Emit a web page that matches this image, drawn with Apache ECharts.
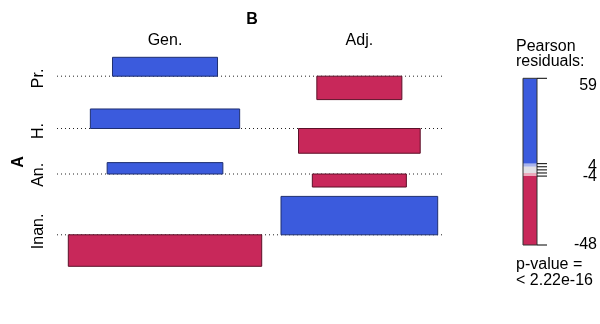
<!DOCTYPE html>
<html>
<head>
<meta charset="utf-8">
<script src="https://cdn.jsdelivr.net/npm/echarts@6/dist/echarts.min.js"></script>
<style>
  html, body { margin: 0; padding: 0; background: #ffffff; }
  #chart { width: 600px; height: 324px; }
</style>
</head>
<body>
<div id="chart"></div>
<script>
// Association plot: rows of variable A against columns of variable B.
// Bar width ~ sqrt(expected count), bar height ~ Pearson residual.
const rowNames = ['Pr.', 'H.', 'An.', 'Inan.'];
const colNames = ['Gen.', 'Adj.'];
const expectedGen = [11030, 22290, 13390, 37400];
const expectedAdj = [7230, 14810, 8840, 24550];
const residualGen = [29, 30, 17.5, -48.4];
const residualAdj = [-36, -38, -20, 59];
const legendTickValues = [4, 2, 0, -2, -4];
const legendLabelValues = [59, 4, -4, -48];
const pValueLabel = '< 2.22e-16';

const FONT = '"Liberation Sans", Arial, Helvetica, sans-serif';
const FS = '16px ';
const POS_FILL = '#3B5BDD', NEG_FILL = '#C8285A';
const POS_LINE = '#1F2F70', NEG_LINE = '#5C1028';

// ---- layout in data units (sqrt-count horizontally, residuals vertically)
const expected = [expectedGen, expectedAdj];
const residual = [residualGen, residualAdj];
const PAD_L = 11.3, COL_GAP = 19.3, PAD_R = 6.3, ROW_GAP = 14.4;

const colWidth = expected.map(col => Math.max(...col.map(Math.sqrt)));
const colCenter = [];
let xo = PAD_L;
colWidth.forEach((w, j) => { colCenter[j] = xo + w / 2; xo += w + COL_GAP; });
const X_MAX = xo - COL_GAP + PAD_R;

const rowUp = [], rowDown = [], rowBase = [];
let yo = 0;
rowNames.forEach((_, i) => {
  const vals = residual.map(col => col[i]);
  rowUp[i] = Math.max(0, ...vals);
  rowDown[i] = Math.max(0, ...vals.map(v => -v));
  rowBase[i] = yo + rowUp[i];
  yo += rowUp[i] + rowDown[i] + ROW_GAP;
});
const Y_MAX = yo - ROW_GAP;

const cellData = [];
colNames.forEach((_, j) => rowNames.forEach((_, i) => {
  cellData.push([colCenter[j], rowBase[i], Math.sqrt(expected[j][i]), residual[j][i]]);
}));

const allRes = residual.flat();
const resMax = Math.max(...allRes), resMin = Math.min(...allRes);

// legend colour pieces: [low, high, colour]
const legendPieces = [
  [4, resMax, POS_FILL],
  [2, 4, '#A9B4EC'],
  [-2, 2, '#E2E0E5'],
  [-4, -2, '#EBA9BB'],
  [resMin, -4, NEG_FILL]
];

const chart = echarts.init(document.getElementById('chart'), null, { renderer: 'canvas' });

chart.setOption({
  animation: false,
  backgroundColor: '#ffffff',
  grid: [
    { left: 57, top: 57.3, width: 387, height: 209 },
    { left: 523, top: 78.3, width: 14, height: 166.7 }
  ],
  xAxis: [
    { gridIndex: 0, type: 'value', min: 0, max: X_MAX, show: false },
    { gridIndex: 1, type: 'value', min: 0, max: 1, show: false }
  ],
  yAxis: [
    { gridIndex: 0, type: 'value', min: 0, max: Y_MAX, inverse: true, show: false },
    { gridIndex: 1, type: 'value', min: resMin, max: resMax, show: false }
  ],
  graphic: [
    { type: 'text', x: 252, y: 20, style: { text: 'B', fontSize: 16, fontWeight: 'bold', fontFamily: FONT, fill: '#000', align: 'center', verticalAlign: 'middle' } },
    { type: 'text', x: 19, y: 162, rotation: Math.PI / 2, style: { text: 'A', fontSize: 16, fontWeight: 'bold', fontFamily: FONT, fill: '#000', align: 'center', verticalAlign: 'middle' } },
    { type: 'text', x: 516, y: 47, style: { text: 'Pearson', font: FS + FONT, fill: '#000', align: 'left', verticalAlign: 'middle' } },
    { type: 'text', x: 516, y: 62, style: { text: 'residuals:', font: FS + FONT, fill: '#000', align: 'left', verticalAlign: 'middle' } },
    { type: 'text', x: 516, y: 265, style: { text: 'p-value =', font: FS + FONT, fill: '#000', align: 'left', verticalAlign: 'middle' } },
    { type: 'text', x: 516, y: 281, style: { text: pValueLabel, font: FS + FONT, fill: '#000', align: 'left', verticalAlign: 'middle' } }
  ],
  series: [
    {
      // dotted baselines per row
      type: 'custom', xAxisIndex: 0, yAxisIndex: 0, clip: false,
      data: rowBase.map(b => [0, b]),
      encode: { x: 0, y: 1 },
      renderItem: (params, api) => {
        const a = api.coord([0, api.value(1)]);
        const b = api.coord([X_MAX, api.value(1)]);
        return { type: 'line', shape: { x1: a[0], y1: a[1], x2: b[0], y2: b[1] },
          style: { stroke: '#222', lineWidth: 1, lineDash: [1, 3] } };
      }
    },
    {
      // residual bars
      type: 'custom', xAxisIndex: 0, yAxisIndex: 0, clip: false,
      data: cellData,
      encode: { x: 0, y: 1 },
      renderItem: (params, api) => {
        const xc = api.value(0), base = api.value(1), w = api.value(2), r = api.value(3);
        const p1 = api.coord([xc - w / 2, base - Math.max(r, 0)]);
        const p2 = api.coord([xc + w / 2, base - Math.min(r, 0)]);
        return { type: 'rect',
          shape: { x: p1[0], y: p1[1], width: p2[0] - p1[0], height: p2[1] - p1[1] },
          style: { fill: r > 0 ? POS_FILL : NEG_FILL, stroke: r > 0 ? POS_LINE : NEG_LINE, lineWidth: 1 } };
      }
    },
    {
      // row labels
      type: 'custom', xAxisIndex: 0, yAxisIndex: 0, clip: false,
      data: rowNames.map((n, i) => [0, rowBase[i] - rowUp[i] + (rowUp[i] + rowDown[i]) / 2]),
      encode: { x: 0, y: 1 },
      renderItem: (params, api) => {
        const p = api.coord([0, api.value(1)]);
        return { type: 'text', x: 39, y: p[1], rotation: Math.PI / 2,
          style: { text: rowNames[params.dataIndex], font: FS + FONT, fill: '#000', align: 'center', verticalAlign: 'middle' } };
      }
    },
    {
      // column labels
      type: 'custom', xAxisIndex: 0, yAxisIndex: 0, clip: false,
      data: colCenter.map(c => [c, 0]),
      encode: { x: 0, y: 1 },
      renderItem: (params, api) => {
        const p = api.coord([api.value(0), 0]);
        return { type: 'text', x: p[0], y: 40.5,
          style: { text: colNames[params.dataIndex], font: FS + FONT, fill: '#000', align: 'center', verticalAlign: 'middle' } };
      }
    },
    {
      // legend colour bar
      type: 'custom', xAxisIndex: 1, yAxisIndex: 1, clip: false,
      data: legendPieces.map(p => [0, p[0], p[1]]),
      encode: { x: 0, y: [1, 2] },
      renderItem: (params, api) => {
        const lo = api.coord([0, api.value(1)]);
        const hi = api.coord([1, api.value(2)]);
        return { type: 'rect', shape: { x: lo[0], y: hi[1], width: hi[0] - lo[0], height: lo[1] - hi[1] },
          style: { fill: legendPieces[params.dataIndex][2] } };
      }
    },
    {
      // legend outline and ticks
      type: 'custom', xAxisIndex: 1, yAxisIndex: 1, clip: false,
      data: [[0, resMin, resMax]],
      encode: { x: 0, y: [1, 2] },
      renderItem: (params, api) => {
        const lo = api.coord([0, api.value(1)]);
        const hi = api.coord([1, api.value(2)]);
        const children = [{ type: 'rect', shape: { x: lo[0], y: hi[1], width: hi[0] - lo[0], height: lo[1] - hi[1] },
          style: { fill: 'none', stroke: '#333', lineWidth: 1 } }];
        [resMax].concat(legendTickValues, [resMin]).forEach(v => {
          const p = api.coord([1, v]);
          children.push({ type: 'line', shape: { x1: p[0], y1: p[1], x2: p[0] + 10, y2: p[1] },
            style: { stroke: '#000', lineWidth: 1 } });
        });
        return { type: 'group', children };
      }
    },
    {
      // legend labels
      type: 'custom', xAxisIndex: 1, yAxisIndex: 1, clip: false,
      data: legendLabelValues.map(v => [1, v]),
      encode: { x: 0, y: 1 },
      renderItem: (params, api) => {
        const v = api.value(1);
        const p = api.coord([1, v]);
        const shift = v === legendLabelValues[0] ? 7 : (v === legendLabelValues[1] ? 2.5 : 0.5);
        return { type: 'text', x: 597, y: p[1] + shift,
          style: { text: String(v), font: FS + FONT, fill: '#000', align: 'right', verticalAlign: 'middle' } };
      }
    }
  ]
});
</script>
</body>
</html>
